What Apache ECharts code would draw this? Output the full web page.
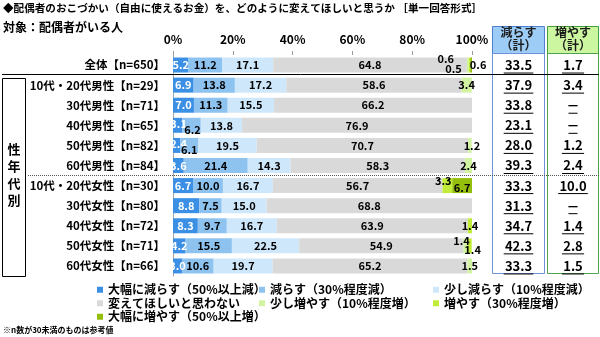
<!DOCTYPE html>
<html>
<head>
<meta charset="utf-8">
<script src="https://cdn.jsdelivr.net/npm/echarts@6/dist/echarts.min.js"></script>
<style>
  html, body { margin: 0; padding: 0; background: #fff; }
  #chart { width: 600px; height: 337px; }
</style>
</head>
<body>
<div id="chart"></div>
<script>
// Row labels (respondent groups)
const categories = [
  '全体【n=650】',
  '10代・20代男性【n=29】', '30代男性【n=71】', '40代男性【n=65】', '50代男性【n=82】', '60代男性【n=84】',
  '10代・20代女性【n=30】', '30代女性【n=80】', '40代女性【n=72】', '50代女性【n=71】', '60代女性【n=66】'
];

// Answer shares (%) per row
const bigCut     = [5.2, 6.9, 7.0, 3.1, 2.4, 3.6, 6.7, 8.8, 8.3, 4.2, 3.0];
const cut        = [11.2, 13.8, 11.3, 6.2, 6.1, 21.4, 10.0, 7.5, 9.7, 15.5, 10.6];
const smallCut   = [17.1, 17.2, 15.5, 13.8, 19.5, 14.3, 16.7, 15.0, 16.7, 22.5, 19.7];
const noChange   = [64.8, 58.6, 66.2, 76.9, 70.7, 58.3, 56.7, 68.8, 63.9, 54.9, 65.2];
const smallRaise = [0.6, 3.4, 0, 0, 1.2, 2.4, 0, 0, 0, 1.4, 1.5];
const raise      = [0.5, 0, 0, 0, 0, 0, 3.3, 0, 1.4, 1.4, 0];
const bigRaise   = [0.6, 0, 0, 0, 0, 0, 6.7, 0, 0, 0, 0];

// Printed totals (null = none)
const cutTotals   = [33.5, 37.9, 33.8, 23.1, 28.0, 39.3, 33.3, 31.3, 34.7, 42.3, 33.3];
const raiseTotals = [1.7, 3.4, null, null, 1.2, 2.4, 10.0, null, 1.4, 2.8, 1.5];

// Axis ticks
const xTicks = { min: 0, max: 100, interval: 20 };

const FONT = '"Noto Sans CJK JP", sans-serif';

const seriesDefs = [
  { name: '大幅に減らす（50%以上減）', values: bigCut,     color: '#3b8fe4', text: '#fff' },
  { name: '減らす（30%程度減）',       values: cut,        color: '#8ec3f0', text: '#000' },
  { name: '少し減らす（10%程度減）',   values: smallCut,   color: '#cee7fb', text: '#000' },
  { name: '変えてほしいと思わない',     values: noChange,   color: '#d9d9d9', text: '#000' },
  { name: '少し増やす（10%程度増）',   values: smallRaise, color: '#d2f4a2', text: '#000' },
  { name: '増やす（30%程度増）',       values: raise,      color: '#c2ec3a', text: '#000' },
  { name: '大幅に増やす（50%以上増）', values: bigRaise,   color: '#93be0c', text: '#000' }
];

// Label nudges for thin segments: key = seriesIndex-rowIndex
const labelNudge = {
  '0-3': [1, -2], '1-3': [1, 4],
  '0-4': [2, -2], '1-4': [0, 4],
  '4-0': [-22, -6], '5-0': [-16, 4], '6-0': [7, 0],
  '4-4': [2, 0],
  '5-6': [-4, -5], '6-6': [0, 2],
  '4-9': [-4, -5], '5-9': [3, 4]
};

const barSeries = seriesDefs.map((d, si) => ({
  name: d.name,
  type: 'bar',
  stack: 'all',
  barWidth: 15,
  itemStyle: { color: d.color },
  label: {
    show: true,
    position: 'inside',
    color: d.text,
    fontFamily: FONT,
    fontSize: 11,
    fontWeight: 'bold',
    formatter: p => (p.value ? p.value.toFixed(1) : '')
  },
  data: d.values.map((v, ri) => {
    const off = labelNudge[si + '-' + ri];
    return off ? { value: v, label: { offset: off } } : v;
  })
}));

function totalsRenderer(colX) {
  return function (params, api) {
    const y = api.coord([0, api.value(1)])[1];
    const v = api.value(2);
    const txt = isNaN(v) ? '－' : v.toFixed(1);
    const w = isNaN(v) ? 9 : txt.length * 7.4;
    return {
      type: 'group',
      children: [
        { type: 'text', style: { text: txt, x: colX, y: y, align: 'center', verticalAlign: 'middle',
          font: 'bold 13px ' + FONT, fill: '#000' } },
        { type: 'line', shape: { x1: colX - w / 2, y1: y + 8, x2: colX + w / 2, y2: y + 8 },
          style: { stroke: '#000', lineWidth: 1 } }
      ]
    };
  };
}

const totalsSeries = [
  { data: cutTotals, x: 518.5 },
  { data: raiseTotals, x: 573 }
].map(t => ({
  type: 'custom',
  clip: false,
  silent: true,
  renderItem: totalsRenderer(t.x),
  encode: { x: 0, y: 1 },
  data: t.data.map((v, i) => [0, i, v == null ? NaN : v]),
  z: 5
}));

const legendText = { fontFamily: FONT, fontSize: 12, fontWeight: 'bold', color: '#000', lineHeight: 13.5 };
function legendColumn(left, names) {
  return {
    orient: 'vertical', left: left, top: 283,
    itemWidth: 6, itemHeight: 6, itemGap: 0, icon: 'rect',
    textStyle: legendText, data: names, selectedMode: false, padding: 0
  };
}

const chart = echarts.init(document.getElementById('chart'));
chart.setOption({
  animation: false,
  backgroundColor: '#fff',
  title: [
    { text: '◆配偶者のおこづかい（自由に使えるお金）を、どのように変えてほしいと思うか ［単一回答形式］',
      left: 3, top: 3, padding: 0,
      textStyle: { fontFamily: FONT, fontSize: 10.6, fontWeight: 'bold', color: '#000' } },
    { text: '対象：配偶者がいる人', left: 3, top: 21, padding: 0,
      textStyle: { fontFamily: FONT, fontSize: 12, fontWeight: 'bold', color: '#000' } },
    { text: '※n数が30未満のものは参考値', left: 3, top: 326, padding: 0,
      textStyle: { fontFamily: FONT, fontSize: 8, fontWeight: 'bold', color: '#000' } }
  ],
  legend: [
    legendColumn(97, [seriesDefs[0].name, seriesDefs[3].name, seriesDefs[6].name]),
    legendColumn(259, [seriesDefs[1].name, seriesDefs[4].name]),
    legendColumn(433, [seriesDefs[2].name, seriesDefs[5].name])
  ],
  grid: { left: 173, right: 128, top: 55, bottom: 61, containLabel: false },
  xAxis: {
    type: 'value', position: 'top',
    min: xTicks.min, max: xTicks.max, interval: xTicks.interval,
    axisLine: { show: false },
    axisTick: { show: true, length: 4, lineStyle: { color: '#999' } },
    splitLine: { show: false },
    axisLabel: { formatter: '{value}%', margin: 10, fontFamily: FONT, fontSize: 12, fontWeight: 'bold', color: '#000' }
  },
  yAxis: {
    type: 'category', inverse: true, data: categories,
    axisLine: { show: true, lineStyle: { color: '#a6a6a6' } },
    axisTick: { show: false },
    axisLabel: { margin: 8, fontFamily: FONT, fontSize: 11.5, fontWeight: 'bold', color: '#000' }
  },
  graphic: [
    // total columns
    { type: 'rect', shape: { x: 492.5, y: 26.5, width: 52, height: 27 }, style: { fill: '#9dcdf7', stroke: '#4f7fd0', lineWidth: 1 } },
    { type: 'text', style: { text: '減らす\n（計）', x: 518.5, y: 39, align: 'center', verticalAlign: 'middle', font: 'bold 12px ' + FONT, lineHeight: 12.5, fill: '#1a1a1a' } },
    { type: 'rect', shape: { x: 492.5, y: 53.5, width: 52, height: 220 }, style: { fill: 'none', stroke: '#6f92da', lineWidth: 1 } },
    { type: 'rect', shape: { x: 547.5, y: 26.5, width: 51, height: 27 }, style: { fill: '#ccf7a0', stroke: '#3f9f3f', lineWidth: 1 } },
    { type: 'text', style: { text: '増やす\n（計）', x: 573, y: 39, align: 'center', verticalAlign: 'middle', font: 'bold 12px ' + FONT, lineHeight: 12.5, fill: '#1a1a1a' } },
    { type: 'rect', shape: { x: 547.5, y: 53.5, width: 51, height: 220 }, style: { fill: 'none', stroke: '#4fa34f', lineWidth: 1 } },
    // separators
    { type: 'line', shape: { x1: 2, y1: 74.5, x2: 599, y2: 74.5 }, style: { stroke: '#000', lineWidth: 1 }, z: 10 },
    { type: 'line', shape: { x1: 28, y1: 175.5, x2: 599, y2: 175.5 }, style: { stroke: '#555', lineWidth: 1, lineDash: [1, 1] }, z: 10 },
    // group bracket
    { type: 'rect', shape: { x: 2.5, y: 78.5, width: 23, height: 198 }, style: { fill: 'none', stroke: '#000', lineWidth: 1 } },
    { type: 'text', style: { text: '性\n年\n代\n別', x: 14, y: 175, align: 'center', verticalAlign: 'middle', font: 'bold 13px ' + FONT, lineHeight: 17, fill: '#000' } }
  ],
  series: barSeries.concat(totalsSeries)
});
</script>
</body>
</html>
